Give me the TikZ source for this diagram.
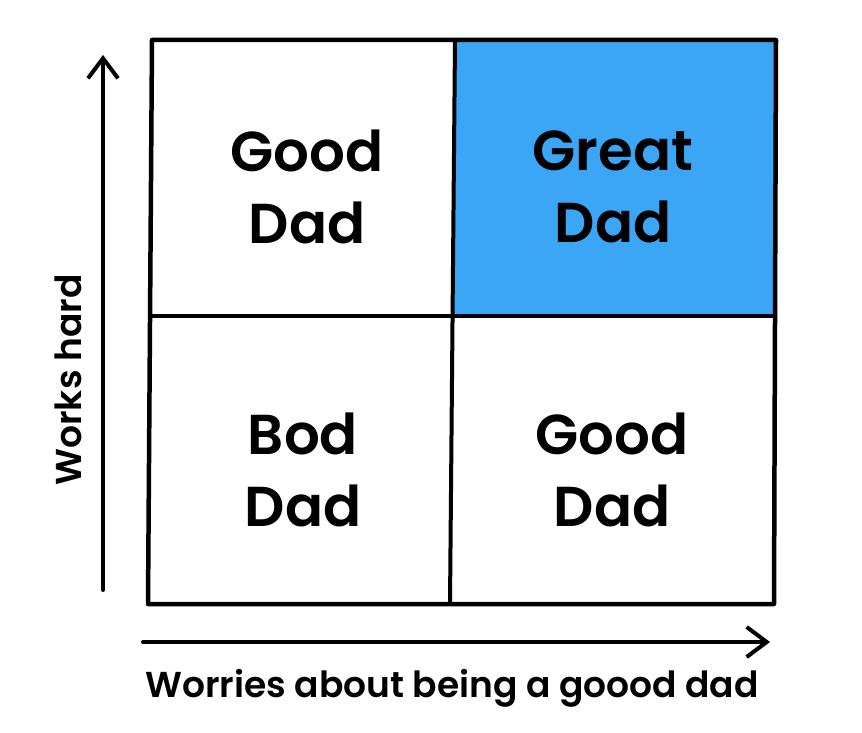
\documentclass[tikz,border=0pt]{standalone}
\usepackage{fontspec}
\setmainfont{Poppins}[BoldFont={Poppins SemiBold}]
\usetikzlibrary{arrows.meta}
\definecolor{celblue}{RGB}{58,166,245}
\tikzset{
  celltext/.style={align=center, font=\fontsize{32}{41}\selectfont\bfseries},
  axistext/.style={font=\fontsize{20.5}{24}\selectfont\bfseries},
  axisline/.style={line width=0.08cm, line cap=round,
    -{Straight Barb[length=4mm,width=6mm,line width=0.08cm]}}
}
\begin{document}
\begin{tikzpicture}[x=0.02cm,y=-0.02cm]

 \useasboundingbox (0,0) rectangle (862,733);

 % corners
 \coordinate (A) at (152,40);
 \coordinate (B) at (455,40);
 \coordinate (C) at (776,40);
 \coordinate (D) at (150,316);
 \coordinate (E) at (453,316);
 \coordinate (F) at (775,316);
 \coordinate (G) at (148,604);
 \coordinate (H) at (450,604);
 \coordinate (I) at (774,604);

 % blue cell
 \fill[celblue] (B) -- (C) -- (F) -- (E) -- cycle;

 % grid
 \draw[line width=0.09cm,line join=round] (A) -- (C) -- (I) -- (G) -- cycle;
 \draw[line width=0.08cm] (B) -- (H);
 \draw[line width=0.08cm] (D) -- (F);

 % axes
 \coordinate (Y0) at (103,590);
 \coordinate (Y1) at (103,55);
 \coordinate (X0) at (143,642);
 \coordinate (X1) at (770,642);
 \draw[axisline] (Y0) -- (Y1);
 \draw[axisline] (X0) -- (X1);

 % cell labels
 \node[celltext] (gooda) at (307,187) {Good\\Dad};
 \node[celltext] (great) at (613,187) {Great\\Dad};
 \node[celltext] (bod) at (303,470) {Bod\\Dad};
 \node[celltext] (goodb) at (612,470) {Good\\Dad};

 % axis labels
 \node[axistext, rotate=90] (ylab) at (68,380) {Works hard};
 \node[axistext] (xlab) at (452,688) {Worries about being a goood dad};
\end{tikzpicture}
\end{document}
